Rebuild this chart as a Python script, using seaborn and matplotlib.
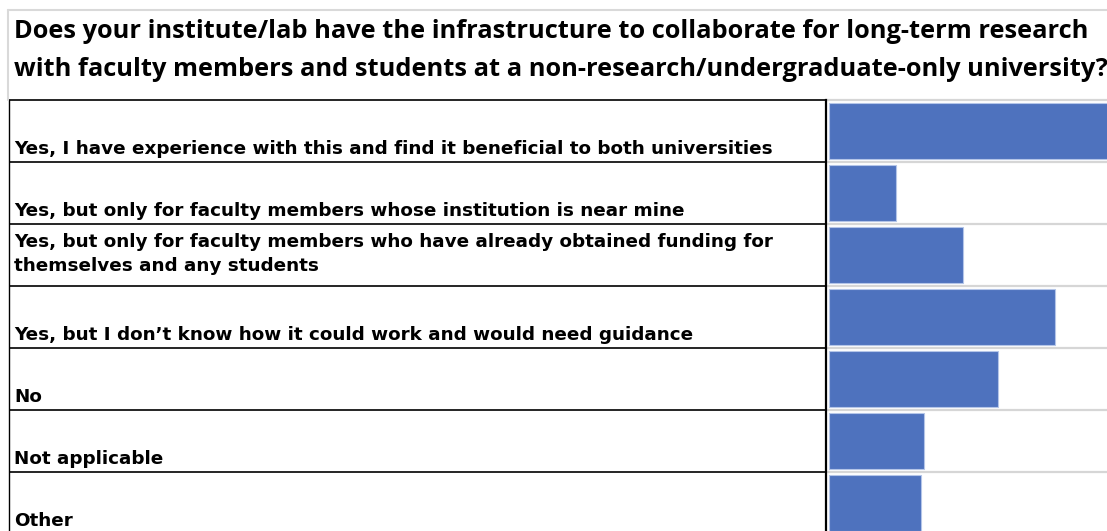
import matplotlib
matplotlib.use("Agg")
import matplotlib.pyplot as plt
from matplotlib.lines import Line2D
import seaborn as sns
import pandas as pd

title_lines = [
    "Does your institute/lab have the infrastructure to collaborate for long-term research",
    "with faculty members and students at a non-research/undergraduate-only university?",
]
answers = [
    "Yes, I have experience with this and find it beneficial to both universities",
    "Yes, but only for faculty members whose institution is near mine",
    "Yes, but only for faculty members who have already obtained funding for\nthemselves and any students",
    "Yes, but I don\u2019t know how it could work and would need guidance",
    "No",
    "Not applicable",
    "Other",
]
# share of respondents (%); first bar runs past the frame
responses = [22.0, 5.0, 10.0, 16.9, 12.6, 7.1, 6.9]

df = pd.DataFrame({"answer": answers, "pct": responses})

sns.set_theme(style="white")
plt.rcParams["font.family"] = ["DejaVu Sans"]
plt.rcParams["text.color"] = "black"

W, H = 1107, 531
fig = plt.figure(figsize=(W / 100, H / 100), dpi=100)
fig.patch.set_facecolor("white")


def px_rect(x0, y0, x1, y1):
    # pixel box (origin top-left) -> figure fraction rect
    return [x0 / W, 1 - y1 / H, (x1 - x0) / W, (y1 - y0) / H]


n = len(answers)
top = 100
row_h = 62
bottom = top + row_h * n
px_per_unit = 13.4

# bar column
ax_bar = fig.add_axes(px_rect(826, top, W, bottom))
sns.barplot(data=df, x="pct", y="answer", orient="h", color="#4E72BE",
            saturation=1, width=0.9, edgecolor="#b4c5e8", linewidth=0.8, ax=ax_bar)
ax_bar.set_xlim(-3 / px_per_unit, (W - 829) / px_per_unit)
ax_bar.set_ylim(n - 0.5, -0.5)
bounds = [i - 0.5 for i in range(n + 1)]
ax_bar.hlines(bounds, -3 / px_per_unit, (W - 829) / px_per_unit,
              color="#d6d6d6", lw=1.6, zorder=0, clip_on=False)
ax_bar.set_axis_off()

# text column
ax_txt = fig.add_axes(px_rect(9, top, 826, bottom))
ax_txt.set_xlim(0, 1)
ax_txt.set_ylim(n - 0.5, -0.5)
ax_txt.hlines(bounds, 0, 1, color="black", lw=1.2, clip_on=False)
ax_txt.set_xticks([])
ax_txt.set_yticks([])
for side in ["top", "bottom"]:
    ax_txt.spines[side].set_visible(False)
ax_txt.spines["left"].set_color("black")
ax_txt.spines["left"].set_linewidth(1.0)
ax_txt.spines["right"].set_color("black")
ax_txt.spines["right"].set_linewidth(1.6)
ax_txt.set_facecolor("white")

trans = ax_txt.get_yaxis_transform()
for i, label in enumerate(answers):
    parts = label.split("\n")
    if len(parts) > 1:
        # wrapped cell: last line sits 15px above the cell bottom, 24px line pitch
        base = i + 0.5 - 15 / row_h
        for k, part in enumerate(reversed(parts)):
            ax_txt.text(5 / 817, base - k * 24 / row_h, part, transform=trans,
                        va="baseline", ha="left", fontsize=13.2,
                        fontweight="bold", color="black")
    else:
        ax_txt.text(5 / 817, i + 0.5 - 8 / row_h, label, transform=trans,
                    va="baseline", ha="left", fontsize=13.2, fontweight="bold",
                    color="black")

# title cell
for k, line in enumerate(title_lines):
    fig.text(14 / W, 1 - (38 + 38 * k) / H, line, va="baseline", ha="left",
             fontsize=18.3, fontweight="bold", color="black",
             family=["Open Sans", "DejaVu Sans"])
fig.add_artist(Line2D([8 / W, 1], [1 - 10 / H, 1 - 10 / H], color="#d9d9d9", lw=1.5))
fig.add_artist(Line2D([8 / W, 8 / W], [1 - 10 / H, 1 - top / H], color="#d9d9d9", lw=1.5))

fig.savefig("out.png", dpi=100)
